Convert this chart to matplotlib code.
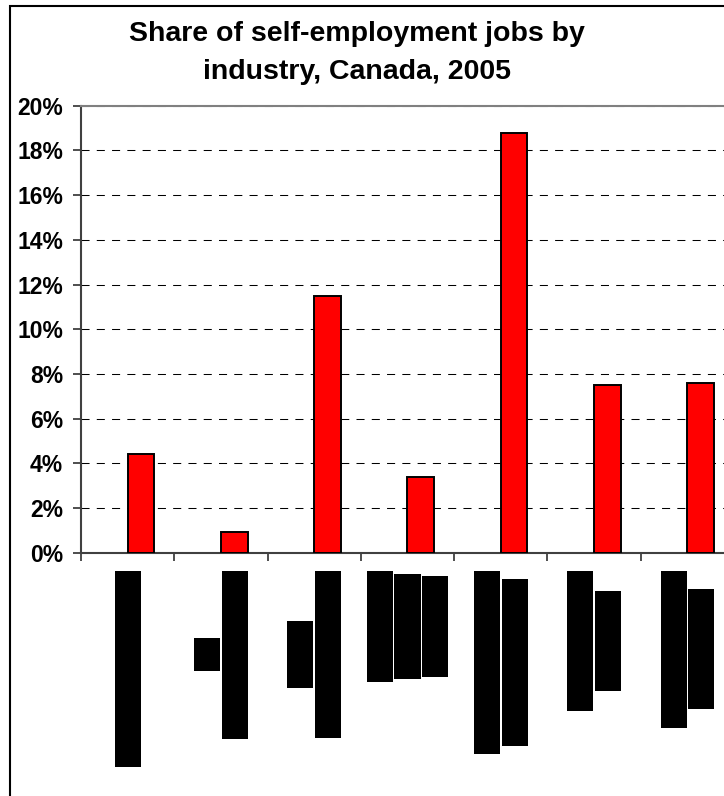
import matplotlib
matplotlib.use('Agg')
import matplotlib.pyplot as plt
import matplotlib.transforms as mtransforms
from matplotlib.patches import Rectangle
from matplotlib.ticker import FuncFormatter
import numpy as np

plt.rcParams['font.family'] = ['Liberation Sans', 'DejaVu Sans']
plt.rcParams['lines.scale_dashes'] = False

# data
industries = [
    ['Farming and fisheries'],
    ['Oil', 'and gas extraction'],
    ['Skilled', 'construction firms'],
    ['Factory and', 'processing', 'operations'],
    ['Wholesale and retail', 'trade and services'],
    ['Transportation,', 'and postal'],
    ['Health and social', 'care workers'],
]
share = [4.4, 0.93, 11.5, 3.4, 18.8, 7.5, 7.6]
y_ticks = [0, 2, 4, 6, 8, 10, 12, 14, 16, 18, 20]

W, H = 724, 796
fig = plt.figure(figsize=(W / 100, H / 100), dpi=100)

# plot area runs past the right edge, like the original
ax = fig.add_axes([81 / W, 1 - 552.7 / H, 653 / W, 447 / H])

x = np.arange(len(share))
w = 1 / 3.5  # second series slot of a 2-series cluster, gap 150%
ax.bar(x + w / 2, share, width=w, color='#ff0000', edgecolor='black',
       linewidth=1.4, zorder=3)

ax.set_xlim(-0.5, len(share) - 0.5)
ax.set_ylim(0, 20)
ax.set_yticks(y_ticks)
ax.yaxis.set_major_formatter(FuncFormatter(lambda v, p: f'{v:.0f}%'))
ax.set_xticks(np.arange(-0.5, len(share), 1))
ax.set_xticklabels([])
ax.tick_params(axis='x', length=6, width=1.2, direction='out', color='#303030')
ax.tick_params(axis='y', length=6, width=1.2, direction='out', pad=7,
               labelsize=16.5, color='#303030')
for lab in ax.get_yticklabels():
    lab.set_fontweight('bold')

ax.yaxis.grid(True, color='black', linestyle=(0, (5.8, 5.2)), linewidth=0.75)
ax.set_axisbelow(True)

for side in ['left', 'bottom']:
    ax.spines[side].set_color('#404040')
    ax.spines[side].set_linewidth(1.5)
ax.spines['top'].set_color('#808080')
ax.spines['top'].set_linewidth(1.5)
ax.spines['right'].set_visible(False)

# outer chart frame
fig.add_artist(Rectangle((10 / W, -0.05), 1.1, 1 - 5.5 / H + 0.05,
                         transform=fig.transFigure, fill=False,
                         edgecolor='black', linewidth=1.5, clip_on=False))

fig.text(357 / W, 1 - 21 / H,
         'Share of self-employment jobs by\nindustry, Canada, 2005',
         ha='center', va='top', fontsize=20.5, fontweight='bold',
         linespacing=1.6, multialignment='center')

# category labels, rotated, one block per line
fig.canvas.draw()
r = fig.canvas.get_renderer()
trans = mtransforms.blended_transform_factory(ax.transData, fig.transFigure)
pitch = 27.5
top_px = 571
pad_pt = 3.2
for i, lines in enumerate(industries):
    texts = []
    n = len(lines)
    for k, s in enumerate(lines):
        dx = (k - (n - 1) / 2) * pitch
        t = ax.text(i, 0.1, s,
                    transform=mtransforms.offset_copy(trans, fig=fig, x=dx, y=0, units='dots'),
                    rotation=90, ha='center', va='center', fontsize=13,
                    fontweight='bold', color='black', clip_on=False,
                    bbox=dict(facecolor='black', edgecolor='none', pad=pad_pt))
        texts.append(t)
    L = max(t.get_window_extent(r).height for t in texts) + 2 * pad_pt * 100 / 72
    yc = 1 - (top_px + L / 2) / H
    for t in texts:
        t.set_y(yc)

fig.savefig('out.png', dpi=100)
